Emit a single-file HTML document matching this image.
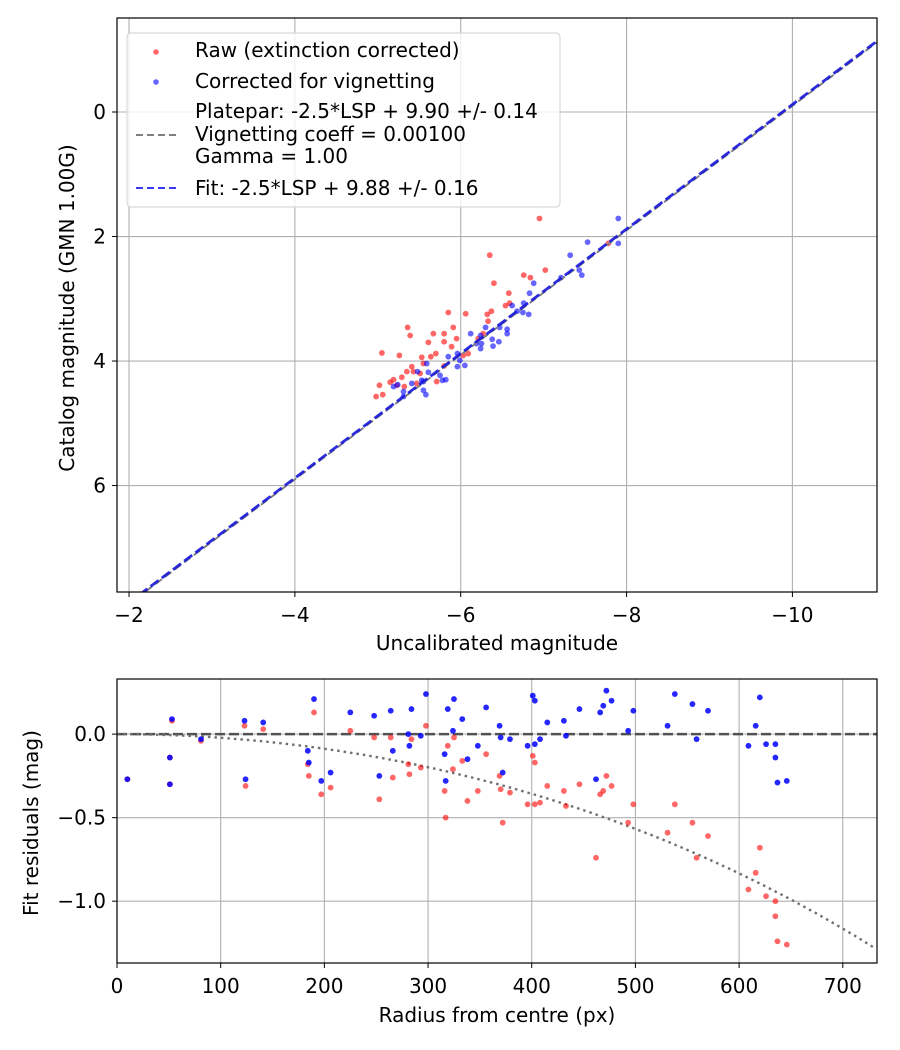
<!DOCTYPE html>
<html><head><meta charset="utf-8"><style>
html,body{margin:0;padding:0;background:#fff;}
svg{display:block;font-family:"DejaVu Sans","Liberation Sans",sans-serif;}
</style></head><body>
<svg id="chart" width="900" height="1050" viewBox="0 0 900 1050" xmlns="http://www.w3.org/2000/svg">
<rect width="900" height="1050" fill="#fff"/>
<g id="topPlot"></g>
<g id="botPlot"></g>
</svg>
<script>
// ---- top plot data ----
const rawX = [-6.95,-6.35,-6.76,-6.84,-7.02,-6.40,-6.58,-6.54,-6.59,-6.37,-6.32,-6.33,-5.85,-6.06,-5.36,-5.91,-5.39,-5.67,-5.80,-5.95,-5.61,-5.80,-5.89,-5.05,-5.26,-5.53,-5.64,-5.70,-6.09,-6.21,-6.27,-5.41,-5.55,-5.35,-5.43,-5.19,-5.29,-5.15,-5.23,-5.02,-5.32,-4.98,-5.06,-5.71,-5.80,-7.78,-5.51,-5.47,-6.03];
const rawY = [1.71,2.30,2.62,2.66,2.54,2.75,2.91,3.11,3.07,3.20,3.25,3.36,3.22,3.24,3.46,3.46,3.59,3.56,3.56,3.64,3.70,3.69,3.77,3.87,3.91,3.94,3.93,3.88,3.88,3.64,3.56,4.09,4.04,4.17,4.17,4.30,4.26,4.34,4.39,4.39,4.41,4.57,4.54,4.33,4.08,2.11,4.20,4.36,3.91];
const corX = [-7.90,-7.90,-7.53,-7.32,-7.43,-7.46,-7.21,-6.88,-6.83,-6.76,-6.62,-6.68,-6.75,-6.82,-6.30,-6.12,-6.47,-6.56,-6.56,-6.24,-6.38,-6.46,-6.25,-6.24,-6.39,-5.85,-5.96,-5.99,-5.96,-6.05,-5.59,-5.61,-5.48,-5.53,-5.55,-5.24,-5.19,-5.31,-5.31,-5.55,-5.58,-5.75,-5.78,-5.82,-5.41,-6.19];
const corY = [1.71,2.11,2.09,2.30,2.54,2.62,2.66,2.75,2.91,3.07,3.11,3.20,3.22,3.25,3.46,3.56,3.46,3.49,3.56,3.59,3.65,3.69,3.72,3.80,3.76,3.93,3.88,3.99,4.09,4.07,4.04,4.18,4.17,4.31,4.33,4.38,4.41,4.49,4.57,4.47,4.54,4.23,4.31,4.30,4.36,3.72];
const fitZP = 9.88;
const plateZP = 9.90;
const topXTicks = [-2,-4,-6,-8,-10];
const topYTicks = [0,2,4,6];
// ---- bottom plot data ----
const radius = [10,53,51,51,81,123,124,141,190,184,185,197,206,225,248,253,264,266,284,281,282,298,293,319,325,333,324,316,317,338,348,356,369,370,379,372,396,401,403,403,408,415,431,433,446,462,466,469,472,477,493,498,531,538,555,559,570,609,616,620,626,635,635,637,646];
const resRaw = [-0.27,0.08,-0.14,-0.30,-0.04,0.05,-0.31,0.03,0.13,-0.18,-0.25,-0.36,-0.32,0.02,-0.02,-0.39,-0.02,-0.26,-0.03,-0.18,-0.24,0.05,-0.20,-0.07,-0.02,-0.16,-0.21,-0.34,-0.50,-0.40,-0.34,-0.12,-0.25,-0.33,-0.35,-0.53,-0.42,-0.13,-0.17,-0.42,-0.41,-0.31,-0.34,-0.43,-0.30,-0.74,-0.36,-0.34,-0.25,-0.31,-0.53,-0.42,-0.59,-0.42,-0.53,-0.74,-0.61,-0.93,-0.83,-0.68,-0.97,-1.00,-1.09,-1.24,-1.26];
const resCor = [-0.27,0.09,-0.14,-0.30,-0.03,0.08,-0.27,0.07,0.21,-0.10,-0.17,-0.28,-0.23,0.13,0.11,-0.25,0.14,-0.10,0.15,0.00,-0.07,0.24,-0.01,0.15,0.21,0.09,0.02,-0.12,-0.28,-0.15,-0.07,0.16,0.05,-0.02,-0.03,-0.23,-0.07,0.23,0.20,-0.06,-0.03,0.07,0.08,-0.01,0.15,-0.27,0.13,0.17,0.26,0.20,0.02,0.14,0.05,0.24,0.18,-0.03,0.14,-0.07,0.05,0.22,-0.06,-0.06,-0.14,-0.29,-0.28];
const vigCoeff = 0.001;
const botXTicks = [0,100,200,300,400,500,600,700];
const botYTicks = [0.0,-0.5,-1.0];

const NS = "http://www.w3.org/2000/svg";
const FS = 20;
function mk(parent, tag, attrs, text){
  const e = document.createElementNS(NS, tag);
  for (const k in attrs) e.setAttribute(k, attrs[k]);
  if (text !== undefined) e.textContent = text;
  parent.appendChild(e); return e;
}
function fmtNeg(v, d){ const s = v.toFixed(d); return s.replace('-', '\u2212'); }

// top axes
const T = {l:117, t:18, w:760, h:574, x0:-1.855, x1:-11.02, y0:-1.51, y1:7.71};
const tx = v => T.l + (v - T.x0)/(T.x1 - T.x0)*T.w;
const ty = v => T.t + (v - T.y0)/(T.y1 - T.y0)*T.h;
const topG = document.getElementById('topPlot');
const clipT = mk(topG,'clipPath',{id:'ct'}); mk(clipT,'rect',{x:T.l,y:T.t,width:T.w,height:T.h});
topXTicks.forEach(v=>{
  const g = mk(topG,'line',{x1:tx(v),x2:tx(v),y1:T.t,y2:T.t+T.h,stroke:'#b0b0b0','stroke-width':1.1});
  
  
  mk(topG,'line',{x1:tx(v),x2:tx(v),y1:T.t+T.h,y2:T.t+T.h+5,stroke:'#000','stroke-width':1});
  const t = mk(topG,'text',{x:tx(v),y:T.t+T.h+30,'text-anchor':'middle','font-size':FS},fmtNeg(v,0));
  
  
});
topYTicks.forEach(v=>{
  const g = mk(topG,'line',{x1:T.l,x2:T.l+T.w,y1:ty(v),y2:ty(v),stroke:'#b0b0b0','stroke-width':1.1});
  
  
  mk(topG,'line',{x1:T.l-5,x2:T.l,y1:ty(v),y2:ty(v),stroke:'#000','stroke-width':1});
  const t = mk(topG,'text',{x:T.l-11,y:ty(v)+7,'text-anchor':'end','font-size':FS},fmtNeg(v,0));
  
  
});
const pts = mk(topG,'g',{'clip-path':'url(#ct)'});
rawX.forEach((x,i)=>{
  const c = mk(pts,'circle',{cx:tx(x),cy:ty(rawY[i]),r:2.9,fill:'#ff0000','fill-opacity':0.6});
  
  
});
corX.forEach((x,i)=>{
  const c = mk(pts,'circle',{cx:tx(x),cy:ty(corY[i]),r:2.9,fill:'#0000ff','fill-opacity':0.6});
  
  
});
const pl = mk(pts,'line',{x1:tx(T.x0),y1:ty(T.x0+plateZP),x2:tx(T.x1),y2:ty(T.x1+plateZP),stroke:'#808080','stroke-width':2,'stroke-dasharray':'8,4'});


const fl = mk(pts,'line',{x1:tx(T.x0),y1:ty(T.x0+fitZP),x2:tx(T.x1),y2:ty(T.x1+fitZP),stroke:'#1a1ad9','stroke-opacity':0.92,'stroke-width':2.8,'stroke-dasharray':'10,4'});


const fr = mk(topG,'rect',{x:T.l,y:T.t,width:T.w,height:T.h,fill:'none',stroke:'#000','stroke-width':1.2});


const xl = mk(topG,'text',{x:497,y:650,'text-anchor':'middle','font-size':FS},'Uncalibrated magnitude');


const yl = mk(topG,'text',{x:0,y:0,transform:'translate(74,308) rotate(-90)','text-anchor':'middle','font-size':FS},'Catalog magnitude (GMN 1.00G)');



// legend
const lg = mk(topG,'g',{});


mk(lg,'rect',{x:127,y:33,width:433,height:174,rx:4,fill:'#fff','fill-opacity':0.8,stroke:'#d0d0d0','stroke-width':1});
mk(lg,'circle',{cx:156,cy:52,r:2.8,fill:'#ff0000','fill-opacity':0.6});
mk(lg,'text',{x:195,y:57,'font-size':FS},'Raw (extinction corrected)');
mk(lg,'circle',{cx:156,cy:82,r:2.8,fill:'#0000ff','fill-opacity':0.6});
mk(lg,'text',{x:195,y:88,'font-size':FS},'Corrected for vignetting');
mk(lg,'line',{x1:136,x2:177,y1:135,y2:135,stroke:'#808080','stroke-width':2,'stroke-dasharray':'7,4'});
mk(lg,'text',{x:195,y:118,'font-size':FS},'Platepar: -2.5*LSP + 9.90 +/- 0.14');
mk(lg,'text',{x:195,y:141,'font-size':FS},'Vignetting coeff = 0.00100');
mk(lg,'text',{x:195,y:163,'font-size':FS},'Gamma = 1.00');
mk(lg,'line',{x1:136,x2:177,y1:188,y2:188,stroke:'#3a3aff','stroke-width':2,'stroke-dasharray':'7,4'});
mk(lg,'text',{x:195,y:195,'font-size':FS},'Fit: -2.5*LSP + 9.88 +/- 0.16');

// bottom axes
const B = {l:117, t:679, w:760, h:284, x0:0, x1:733, y0:0.33, y1:-1.37};
const bx = v => B.l + (v - B.x0)/(B.x1 - B.x0)*B.w;
const by = v => B.t + (v - B.y0)/(B.y1 - B.y0)*B.h;
const botG = document.getElementById('botPlot');
const clipB = mk(botG,'clipPath',{id:'cb'}); mk(clipB,'rect',{x:B.l,y:B.t,width:B.w,height:B.h});
botXTicks.forEach(v=>{
  const g = mk(botG,'line',{x1:bx(v),x2:bx(v),y1:B.t,y2:B.t+B.h,stroke:'#b0b0b0','stroke-width':1.1});
  
  
  mk(botG,'line',{x1:bx(v),x2:bx(v),y1:B.t+B.h,y2:B.t+B.h+5,stroke:'#000','stroke-width':1});
  const t = mk(botG,'text',{x:bx(v),y:B.t+B.h+30,'text-anchor':'middle','font-size':FS},String(v));
  
  
});
botYTicks.forEach(v=>{
  const g = mk(botG,'line',{x1:B.l,x2:B.l+B.w,y1:by(v),y2:by(v),stroke:'#b0b0b0','stroke-width':1.1});
  
  
  mk(botG,'line',{x1:B.l-5,x2:B.l,y1:by(v),y2:by(v),stroke:'#000','stroke-width':1});
  const t = mk(botG,'text',{x:B.l-11,y:by(v)+7,'text-anchor':'end','font-size':FS},fmtNeg(v,1));
  
  
});
const bp = mk(botG,'g',{'clip-path':'url(#cb)'});
const zl = mk(bp,'line',{x1:B.l,x2:B.l+B.w,y1:by(0),y2:by(0),stroke:'#444','stroke-opacity':0.9,'stroke-width':2.4,'stroke-dasharray':'10,4'});


let d='';
for(let r=0;r<=733;r+=3){ const m = 10*Math.log10(Math.cos(vigCoeff*r)); d += (r?'L':'M')+bx(r).toFixed(1)+','+by(m).toFixed(1); }
const vc = mk(bp,'path',{d:d,fill:'none',stroke:'#707070','stroke-width':2.4,'stroke-dasharray':'2.5,4'});


radius.forEach((r,i)=>{
  const c = mk(bp,'circle',{cx:bx(r),cy:by(resRaw[i]),r:2.9,fill:'#ff0000','fill-opacity':0.6});
  
  
});
radius.forEach((r,i)=>{
  const c = mk(bp,'circle',{cx:bx(r),cy:by(resCor[i]),r:2.9,fill:'#0000ff','fill-opacity':0.85});
  
  
});
const fb = mk(botG,'rect',{x:B.l,y:B.t,width:B.w,height:B.h,fill:'none',stroke:'#000','stroke-width':1.2});


const bxl = mk(botG,'text',{x:497,y:1022,'text-anchor':'middle','font-size':FS},'Radius from centre (px)');


const byl = mk(botG,'text',{x:0,y:0,transform:'translate(38,823) rotate(-90)','text-anchor':'middle','font-size':FS},'Fit residuals (mag)');


</script>
</body></html>
